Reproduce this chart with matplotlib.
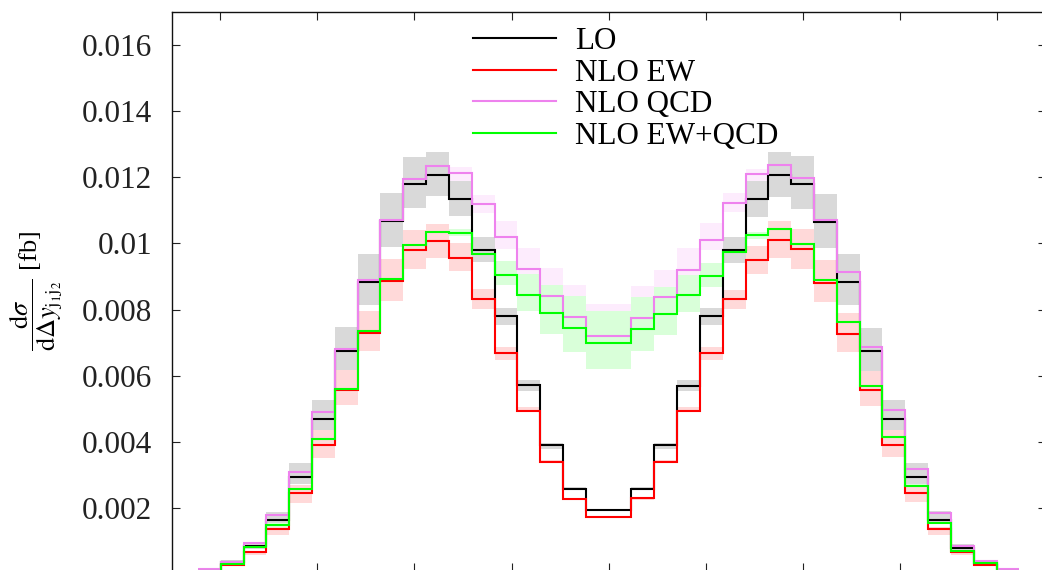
import numpy as np
import matplotlib
matplotlib.use('Agg')
import matplotlib.pyplot as plt
from matplotlib.lines import Line2D

plt.rcParams['font.family'] = ['Liberation Serif', 'DejaVu Serif']
plt.rcParams['mathtext.fontset'] = 'stix'

# 36 bins in the rapidity difference of the two tagging jets
nBins = 36
yMax = 4.23

# central values, in units of 1e-3 fb
lo = [0.13, 0.37, 0.86, 1.65, 2.95, 4.70, 6.75, 8.84, 10.67, 11.81, 12.07, 11.33,
      9.81, 7.81, 5.72, 3.91, 2.60, 1.95, 1.95, 2.60, 3.91, 5.71, 7.80, 9.81,
      11.35, 12.07, 11.81, 10.65, 8.84, 6.75, 4.70, 2.94, 1.65, 0.79, 0.36, 0.13]
nloEW = [0.11, 0.29, 0.67, 1.39, 2.46, 3.91, 5.58, 7.31, 8.87, 9.81, 10.07, 9.57,
         8.31, 6.70, 4.95, 3.41, 2.29, 1.73, 1.73, 2.30, 3.41, 4.94, 6.70, 8.31,
         9.49, 10.12, 9.82, 8.82, 7.28, 5.59, 3.91, 2.47, 1.38, 0.67, 0.29, 0.11]
nloQCD = [0.16, 0.39, 0.96, 1.79, 3.10, 4.92, 6.80, 8.91, 10.72, 11.96, 12.35, 12.13,
          11.18, 10.19, 9.22, 8.42, 7.78, 7.20, 7.20, 7.76, 8.37, 9.21, 10.12, 11.22,
          12.09, 12.38, 11.97, 10.72, 9.15, 6.88, 4.97, 3.18, 1.85, 0.86, 0.41, 0.16]
nloEWQCD = [0.12, 0.33, 0.83, 1.50, 2.58, 4.10, 5.62, 7.36, 8.92, 9.94, 10.36, 10.33,
            9.69, 9.06, 8.44, 7.90, 7.46, 7.00, 7.00, 7.43, 7.87, 8.44, 9.01, 9.73,
            10.25, 10.43, 9.99, 8.89, 7.62, 5.69, 4.16, 2.68, 1.57, 0.72, 0.34, 0.12]

# scale-variation envelopes (lower, upper), same units
loBandLow = [0.11, 0.33, 0.78, 1.55, 2.75, 4.36, 6.17, 8.13, 9.89, 11.07, 11.43, 10.82,
             9.44, 7.55, 5.55, 3.80, 2.55, 1.92, 1.92, 2.55, 3.80, 5.55, 7.55, 9.42,
             10.80, 11.40, 11.05, 9.87, 8.13, 6.15, 4.38, 2.75, 1.55, 0.72, 0.33, 0.11]
loBandHigh = [0.17, 0.43, 0.95, 1.90, 3.36, 5.27, 7.48, 9.67, 11.52, 12.61, 12.76, 11.90,
              10.21, 8.05, 5.87, 3.98, 2.64, 1.98, 1.98, 2.64, 3.98, 5.87, 8.05, 10.19,
              11.90, 12.76, 12.63, 11.50, 9.67, 7.46, 5.27, 3.36, 1.93, 0.92, 0.43, 0.17]
ewBandLow = [0.09, 0.25, 0.60, 1.19, 2.17, 3.51, 5.12, 6.75, 8.26, 9.24, 9.56, 9.16,
             8.03, 6.47, 4.91, 3.36, 2.25, 1.70, 1.70, 2.25, 3.36, 4.91, 6.47, 8.03,
             9.09, 9.57, 9.24, 8.22, 6.73, 5.09, 3.54, 2.20, 1.19, 0.58, 0.25, 0.09]
ewBandHigh = [0.14, 0.32, 0.72, 1.45, 2.70, 4.36, 6.17, 7.95, 9.54, 10.42, 10.60, 10.00,
              8.64, 6.86, 5.07, 3.45, 2.31, 1.76, 1.76, 2.31, 3.45, 5.07, 6.86, 8.61,
              9.91, 10.67, 10.45, 9.49, 7.90, 6.15, 4.38, 2.70, 1.45, 0.70, 0.32, 0.14]
qcdBandLow = [0.14, 0.36, 0.90, 1.70, 2.95, 4.70, 6.50, 8.50, 10.30, 11.50, 11.90, 11.70,
              10.92, 9.84, 9.06, 8.20, 7.50, 6.90, 6.90, 7.50, 8.20, 9.06, 9.79, 10.95,
              11.70, 11.90, 11.50, 10.30, 8.70, 6.50, 4.70, 2.95, 1.70, 0.80, 0.36, 0.14]
qcdBandHigh = [0.17, 0.42, 0.98, 1.85, 3.20, 5.10, 7.10, 9.30, 11.10, 12.30, 12.50, 12.30,
               11.45, 10.67, 9.86, 9.26, 8.74, 8.16, 8.16, 8.72, 9.19, 9.86, 10.61, 11.51,
               12.26, 12.50, 12.30, 11.10, 9.50, 7.10, 5.10, 3.20, 1.85, 0.90, 0.42, 0.17]
ewqcdBandLow = [0.11, 0.31, 0.80, 1.45, 2.52, 4.02, 5.52, 7.25, 8.80, 9.82, 10.24, 10.22,
                9.48, 8.74, 7.95, 7.28, 6.73, 6.22, 6.22, 6.76, 7.23, 7.93, 8.69, 9.45,
                10.14, 10.32, 9.87, 8.78, 7.50, 5.60, 4.08, 2.62, 1.52, 0.69, 0.31, 0.11]
ewqcdBandHigh = [0.13, 0.35, 0.86, 1.55, 2.64, 4.18, 5.72, 7.46, 9.02, 10.05, 10.48, 10.45,
                 9.80, 9.47, 9.09, 8.74, 8.41, 7.96, 7.96, 8.38, 8.69, 9.04, 9.40, 9.80,
                 10.36, 10.54, 10.10, 9.00, 7.74, 5.78, 4.24, 2.74, 1.62, 0.75, 0.37, 0.13]

yTickLabels = ['0.002', '0.004', '0.006', '0.008', '0.01', '0.012', '0.014', '0.016']

unit = 1e-3
edges = np.linspace(-yMax, yMax, nBins + 1)

series = [
    ('LO', lo, loBandLow, loBandHigh, '#000000', '#d9d9d9'),
    ('NLO EW', nloEW, ewBandLow, ewBandHigh, '#ff0000', '#ffd9d9'),
    ('NLO QCD', nloQCD, qcdBandLow, qcdBandHigh, '#ee82ee', '#fdecfd'),
    ('NLO EW+QCD', nloEWQCD, ewqcdBandLow, ewqcdBandHigh, '#00ff00', '#d9ffd9'),
]
# violet under green under red under grey
bandOrder = {'NLO QCD': 1, 'NLO EW+QCD': 2, 'NLO EW': 3, 'LO': 4}

fig = plt.figure(figsize=(10.42, 5.70), dpi=100)
ax = fig.add_axes([0.1648, -0.00175, 0.8386, 0.98125])

handles = []
for i, (name, vals, bLow, bHigh, col, bandCol) in enumerate(series):
    ax.stairs(np.array(bHigh) * unit, edges, baseline=np.array(bLow) * unit,
              fill=True, color=bandCol, linewidth=0, zorder=bandOrder[name])
    ax.stairs(np.array(vals) * unit, edges, baseline=None, color=col,
              linewidth=1.5, zorder=10 + i)
    handles.append(Line2D([], [], color=col, linewidth=1.5, label=name))

ax.set_xlim(-4.5, 4.5)
ax.set_ylim(0.000109, 0.017)
ax.set_xticks(np.arange(-4, 5))
yt = np.arange(1, 9) * 0.002
ax.set_yticks(yt)
ax.set_yticklabels(yTickLabels)
ax.tick_params(direction='in', length=6, width=0.8, top=True, right=True,
               labelbottom=False, labelsize=22.5, pad=14, colors='#222222')
for sp in ax.spines.values():
    sp.set_linewidth(1.0)
    sp.set_color('#111111')

ax.set_ylabel(r'$\dfrac{\mathrm{d}\sigma}{\mathrm{d}\Delta y_{\mathrm{j}_1\mathrm{j}_2}}$ [fb]',
              fontsize=19, labelpad=12)

ax.legend(handles=handles, loc='upper left', bbox_to_anchor=(0.3445, 0.972),
          frameon=False, fontsize=22.4, handlelength=2.67, handletextpad=0.61,
          labelspacing=0.08, borderpad=0, borderaxespad=0)

fig.savefig('out.png', dpi=100)
